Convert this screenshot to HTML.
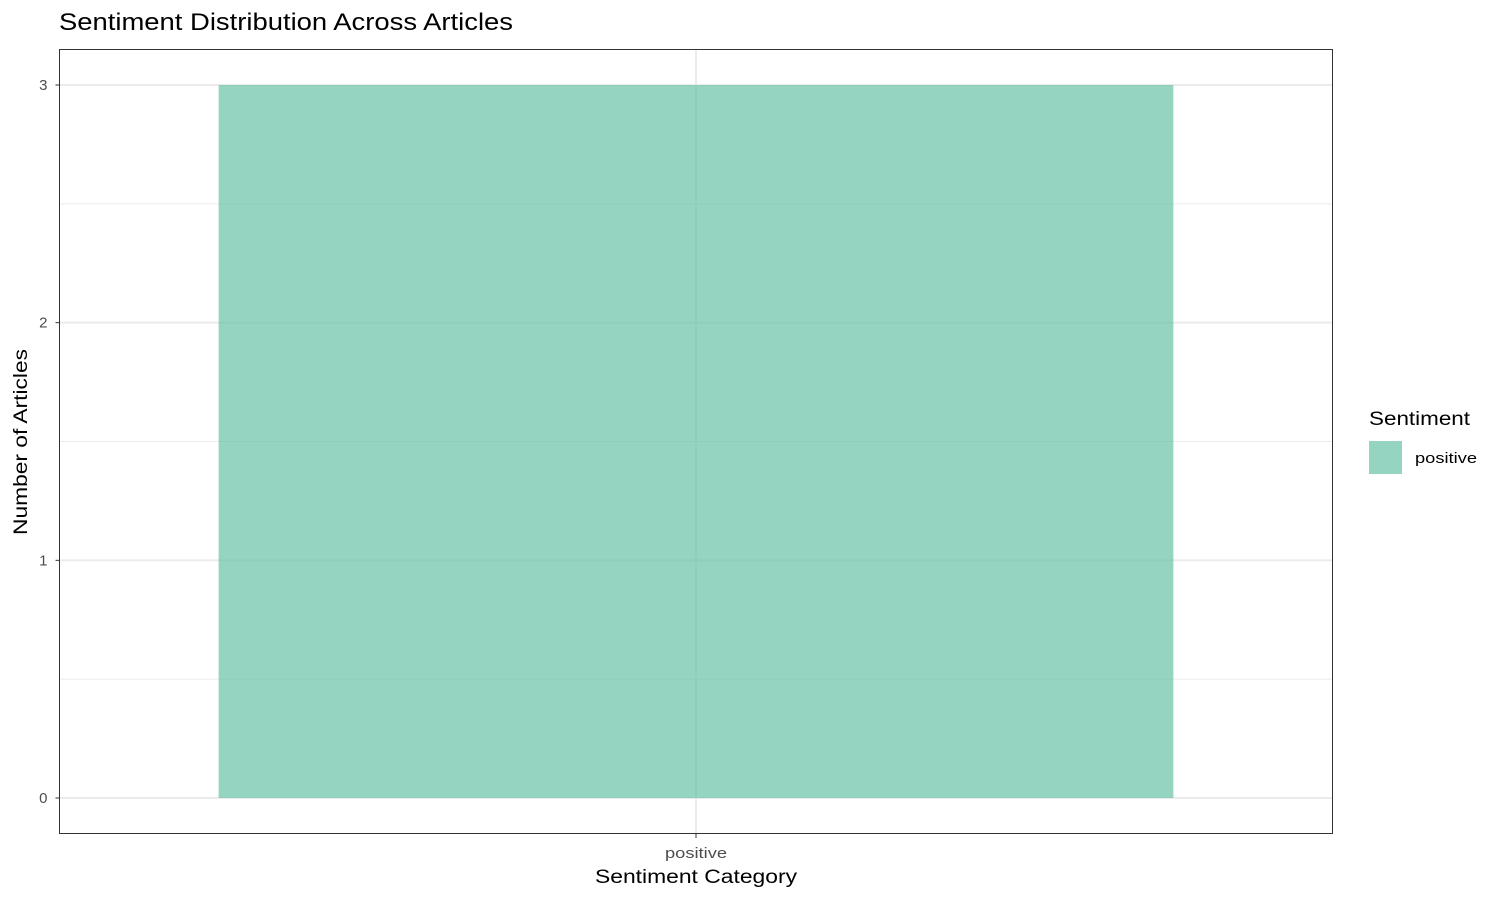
<!DOCTYPE html>
<html><head><meta charset="utf-8"><style>
body{margin:0;background:#fff;}
svg{display:block;font-family:"Liberation Sans",sans-serif;}
</style></head><body>
<svg id="chart" width="1500" height="900">
<text x="59" y="30" font-size="24" fill="#000" textLength="454" lengthAdjust="spacingAndGlyphs">Sentiment Distribution Across Articles</text>
<rect x="59.5" y="49.5" width="1273" height="784" fill="#fff"/>
<g id="grid"></g>
<g id="bars"></g>
<rect x="59.5" y="49.5" width="1273" height="784" fill="none" stroke="#333" stroke-width="1"/>
<g id="axes"></g>
<text x="595" y="883" font-size="19" fill="#000" textLength="202" lengthAdjust="spacingAndGlyphs">Sentiment Category</text>
<text transform="translate(27,535) rotate(-90)" font-size="19" fill="#000" textLength="186" lengthAdjust="spacingAndGlyphs">Number of Articles</text>
<text x="1369" y="425" font-size="19" fill="#000" textLength="101" lengthAdjust="spacingAndGlyphs">Sentiment</text>
<g>
<rect x="1369" y="441" width="33" height="33" fill="#96d4c2"/>
<text x="1415" y="463" font-size="15" fill="#000" textLength="62" lengthAdjust="spacingAndGlyphs">positive</text>
</g>
</svg>
<script>
const categories = ["positive"];
const counts = [3];
const yTicks = [0, 1, 2, 3];
const yMinor = [0.5, 1.5, 2.5];
const NS = "http://www.w3.org/2000/svg";
const x0 = 59.5, x1 = 1332.5, py0 = 798, py3 = 85;
function yScale(v){ return py0 - v * (py0 - py3) / 3; }
const band = (x1 - x0) / categories.length;
function xCenter(i){ return x0 + band * (i + 0.5); }
function mk(tag, attrs, parent){ const e=document.createElementNS(NS,tag); for(const k in attrs) e.setAttribute(k, attrs[k]); parent.appendChild(e); return e; }
const grid = document.getElementById('grid'), bars = document.getElementById('bars'), axes = document.getElementById('axes');
yMinor.forEach(v=>{ const l=mk('line',{x1:x0,x2:x1,y1:yScale(v),y2:yScale(v),stroke:'#ebebeb','stroke-width':1},grid);

 });
yTicks.forEach(v=>{ const y=yScale(v);
const l=mk('line',{x1:x0,x2:x1,y1:y,y2:y,stroke:'#ebebeb','stroke-width':2},grid);


const t=mk('line',{x1:x0-4,x2:x0,y1:y,y2:y,stroke:'#333','stroke-width':1},axes);


const tx=mk('text',{x:x0-12,y:y+5,'font-size':15,'text-anchor':'end',fill:'#4d4d4d'},axes); tx.textContent=v;

 });
categories.forEach((c,i)=>{ const cx=xCenter(i);
const g=mk('line',{x1:cx,x2:cx,y1:49.5,y2:833.5,stroke:'#ebebeb','stroke-width':2},grid);


const w=band*0.75;
const b=mk('rect',{x:cx-w/2,y:yScale(counts[i]),width:w,height:yScale(0)-yScale(counts[i]),fill:'#66c2a5','fill-opacity':0.7},bars);


const t=mk('line',{x1:cx,x2:cx,y1:833.5,y2:838,stroke:'#333','stroke-width':1},axes);


const tx=mk('text',{x:cx-31,y:858,'font-size':15,fill:'#4d4d4d',textLength:62,lengthAdjust:'spacingAndGlyphs'},axes); tx.textContent=c;

 });
</script>
</body></html>
